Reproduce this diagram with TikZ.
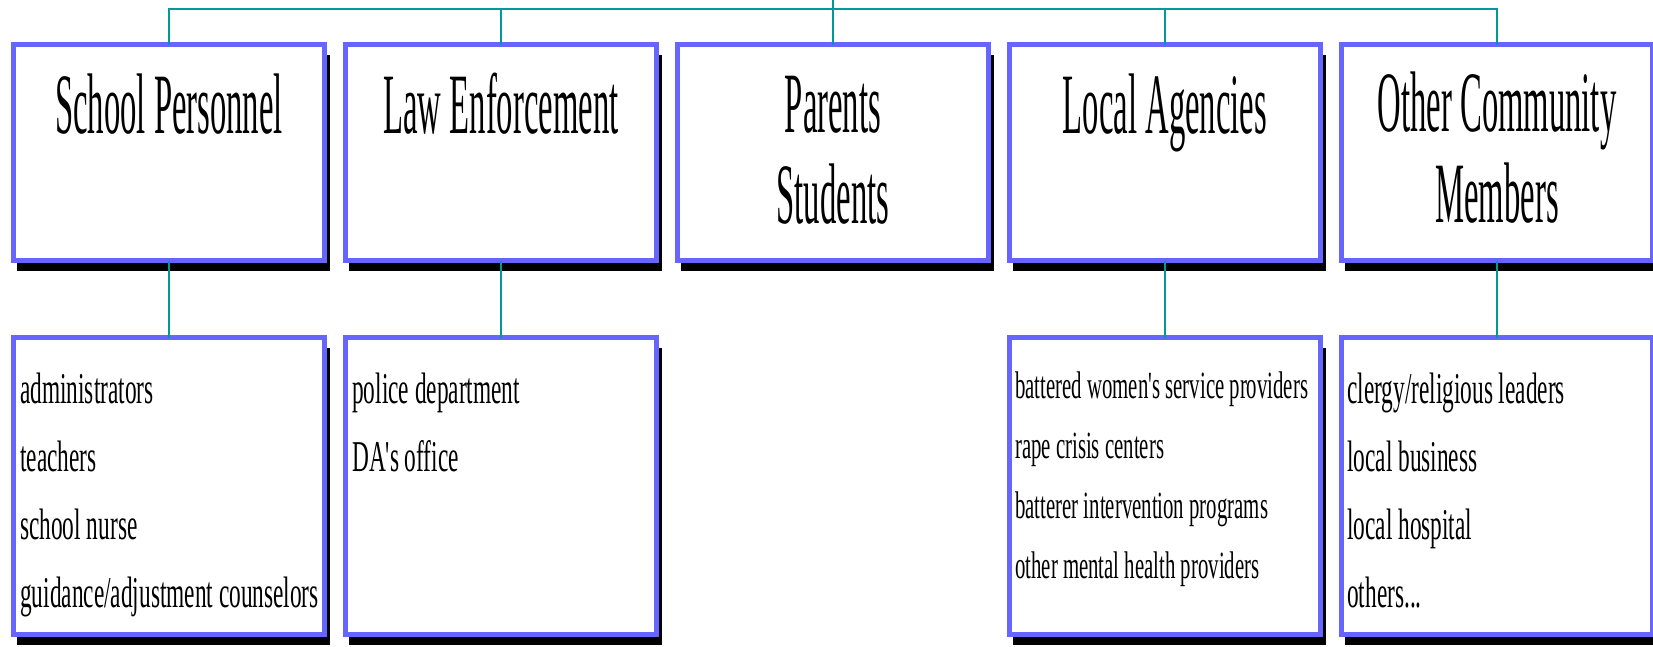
\documentclass[tikz,border=0pt]{standalone}
\usepackage{fontspec}
\setmainfont{Liberation Serif}
\newfontfamily\titlefont[FakeStretch=0.38]{Liberation Serif}
\newfontfamily\itemfont[FakeStretch=0.53]{Liberation Serif}
\newfontfamily\smallitemfont[FakeStretch=0.54]{Liberation Serif}
\usetikzlibrary{calc}
\definecolor{boxblue}{RGB}{102,102,255}
\definecolor{linkteal}{RGB}{0,153,153}
\pgfdeclarelayer{bg}
\pgfdeclarelayer{shadowlayer}
\pgfsetlayers{bg,shadowlayer,main}
\tikzset{
  box/.style={draw=boxblue, line width=5pt, fill=white, rectangle, outer sep=0pt, inner sep=0pt, minimum width=311pt, anchor=north},
  topbox/.style={box, minimum height=216pt},
  botbox/.style={box, minimum height=297pt},
  link/.style={draw=linkteal, line width=2pt},
  title/.style={inner sep=0pt, anchor=base, font=\titlefont\fontsize{86}{91}\selectfont},
  items/.style={inner sep=0pt, anchor=base west, font=\itemfont\fontsize{44}{68}\selectfont},
  smallitems/.style={inner sep=0pt, anchor=base west, font=\smallitemfont\fontsize{38.5}{60}\selectfont},
}
\newcommand\shadowof[1]{\fill[black] ($(#1.north west)+(3.5,10.5)$) rectangle ($(#1.south east)+(5,10.5)$);}
\begin{document}
\begin{tikzpicture}[x=1pt,y=-1pt]
\begin{pgfonlayer}{bg}
\fill[white] (0,0) rectangle (1653,646);
\end{pgfonlayer}
\useasboundingbox (0,0) rectangle (1653,646);
% top boxes
\node[topbox] (t1) at (169,44.5) {};
\node[topbox] (t2) at (501,44.5) {};
\node[topbox] (t3) at (833,44.5) {};
\node[topbox] (t4) at (1165,44.5) {};
\node[topbox] (t5) at (1497,44.5) {};
% bottom boxes
\node[botbox] (b1) at (169,337.5) {};
\node[botbox] (b2) at (501,337.5) {};
\node[botbox] (b4) at (1165,337.5) {};
\node[botbox] (b5) at (1497,337.5) {};
\begin{pgfonlayer}{shadowlayer}
\shadowof{t1}\shadowof{t2}\shadowof{t3}\shadowof{t4}\shadowof{t5}
\shadowof{b1}\shadowof{b2}\shadowof{b4}\shadowof{b5}
\end{pgfonlayer}
% connectors
\coordinate (root) at (833,0);
\coordinate (busL) at (169,9);
\coordinate (busR) at (1497,9);
\draw[link] (root) -- (t3.north);
\draw[link] (t1.north) -- (busL) -- (busR) -- (t5.north);
\draw[link] (t2.north) -- (t2.north |- busL);
\draw[link] (t4.north) -- (t4.north |- busL);
\draw[link] (t1.south) -- (b1.north);
\draw[link] (t2.south) -- (b2.north);
\draw[link] (t4.south) -- (b4.north);
\draw[link] (t5.south) -- (b5.north);
% titles
\node[title] (l1) at (169,133) {School Personnel};
\node[title] (l2) at (501,133) {Law Enforcement};
\node[title] (l3) at (833,132) {\begin{tabular}[t]{@{}c@{}}Parents\\Students\end{tabular}};
\node[title] (l4) at (1165,133) {Local Agencies};
\node[title] (l5) at (1497,131) {\begin{tabular}[t]{@{}c@{}}Other Community\\Members\end{tabular}};
% items
\node[items] (i1) at (20,403) {\begin{tabular}[t]{@{}l@{}}administrators\\teachers\\school nurse\\guidance/adjustment counselors\end{tabular}};
\node[items] (i2) at (352,403) {\begin{tabular}[t]{@{}l@{}}police department\\DA's office\end{tabular}};
\node[smallitems] (i4) at (1015,398) {\begin{tabular}[t]{@{}l@{}}battered women's service providers\\rape crisis centers\\batterer intervention programs\\other mental health providers\end{tabular}};
\node[items] (i5) at (1347,403) {\begin{tabular}[t]{@{}l@{}}clergy/religious leaders\\local business\\local hospital\\others...\end{tabular}};
\end{tikzpicture}
\end{document}
